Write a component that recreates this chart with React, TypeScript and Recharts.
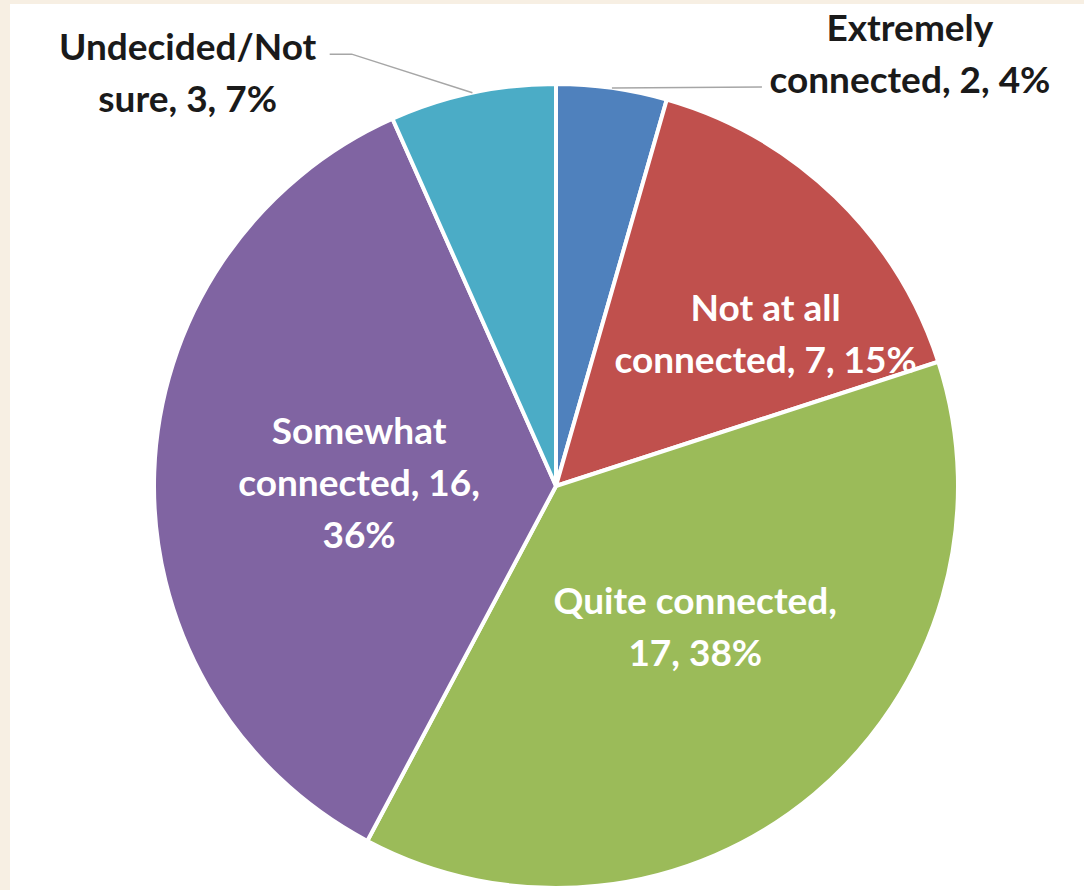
import React from "react";
import { PieChart, Pie, Cell } from "recharts";

const categories = [
  "Extremely connected",
  "Not at all connected",
  "Quite connected",
  "Somewhat connected",
  "Undecided/Not sure",
];
const counts = [2, 7, 17, 16, 3];
const percentLabels = [4, 15, 38, 36, 7];
const colors = ["#4F81BD", "#C0504D", "#9BBB59", "#8064A2", "#4BACC6"];

const data = categories.map((name, i) => ({
  name,
  value: counts[i],
  pct: percentLabels[i],
}));

const RAD = Math.PI / 180;
const polar = (cx: number, cy: number, r: number, a: number) => ({
  x: cx + r * Math.cos(-a * RAD),
  y: cy + r * Math.sin(-a * RAD),
});

const LABEL_LAYOUT = [
  { ratio: 1.393, shift: -31.2, inside: false },
  { ratio: 0.647, shift: -9.7, inside: true },
  { ratio: 0.49, shift: 5, inside: true },
  { ratio: 0.49, shift: 0.5, inside: true },
  { ratio: 1.38, shift: 29.6, inside: false },
];

const FONT = "Lato, 'Open Sans', sans-serif";
const FONT_SIZE = 37;
const LINE_H = 52;

function wrap(text: string, max: number): string[] {
  const words = text.split(" ");
  const lines: string[] = [];
  let cur = "";
  for (const w of words) {
    if (!cur) cur = w;
    else if ((cur + " " + w).length <= max) cur = cur + " " + w;
    else {
      lines.push(cur);
      cur = w;
    }
  }
  if (cur) lines.push(cur);
  return lines;
}

const renderLabel = (props: any) => {
  const { cx, cy, midAngle, outerRadius, index, payload } = props;
  const p = payload && payload.name ? payload : data[index];
  const layout = LABEL_LAYOUT[index];
  const c = polar(cx, cy, outerRadius * layout.ratio, midAngle + layout.shift);
  const text = `${p.name}, ${p.value}, ${p.pct}%`;
  const lines = wrap(text, 17);
  const top = c.y - ((lines.length - 1) * LINE_H) / 2;
  let leader: React.ReactNode = null;
  if (!layout.inside) {
    const s = polar(cx, cy, outerRadius, midAngle);
    let pts: string;
    if (c.x > cx) {
      pts = `${s.x},${s.y} ${c.x - 148},${s.y - 1}`;
    } else {
      const ex = c.x + 142;
      const ey = c.y - 17;
      pts = `${s.x},${s.y} ${ex + 22},${ey} ${ex},${ey}`;
    }
    leader = (
      <polyline points={pts} fill="none" stroke="#A6A6A6" strokeWidth={1.5} />
    );
  }
  return (
    <g key={`lbl-${index}`}>
      {leader}
      <text
        x={c.x}
        y={top}
        textAnchor="middle"
        dominantBaseline="central"
        fill={layout.inside ? "#FFFFFF" : "#1A1A1A"}
        style={{ fontFamily: FONT, fontSize: FONT_SIZE, fontWeight: 700 }}
      >
        {lines.map((ln, i) => (
          <tspan key={i} x={c.x} y={top + i * LINE_H} dominantBaseline="central">
            {ln}
          </tspan>
        ))}
      </text>
    </g>
  );
};

export default function App() {
  return (
    <div
      style={{
        position: "absolute",
        left: 0,
        top: 0,
        width: 1084,
        height: 890,
        background: "#F7EFE3",
        overflow: "hidden",
      }}
    >
      <div
        style={{
          position: "absolute",
          left: 10,
          top: 4,
          width: 1074,
          height: 886,
          background: "#FFFFFF",
        }}
      />
      <div style={{ position: "absolute", left: 0, top: 0 }}>
        <PieChart
          width={1084}
          height={890}
          margin={{ top: 0, right: 0, bottom: 0, left: 0 }}
        >
          <Pie
            data={data}
            dataKey="value"
            nameKey="name"
            cx={556}
            cy={486}
            outerRadius={402}
            startAngle={90}
            endAngle={-270}
            stroke="#FFFFFF"
            strokeWidth={4}
            label={renderLabel}
            labelLine={false}
            isAnimationActive={false}
          >
            {data.map((d, i) => (
              <Cell key={d.name} fill={colors[i]} />
            ))}
          </Pie>
        </PieChart>
      </div>
    </div>
  );
}
